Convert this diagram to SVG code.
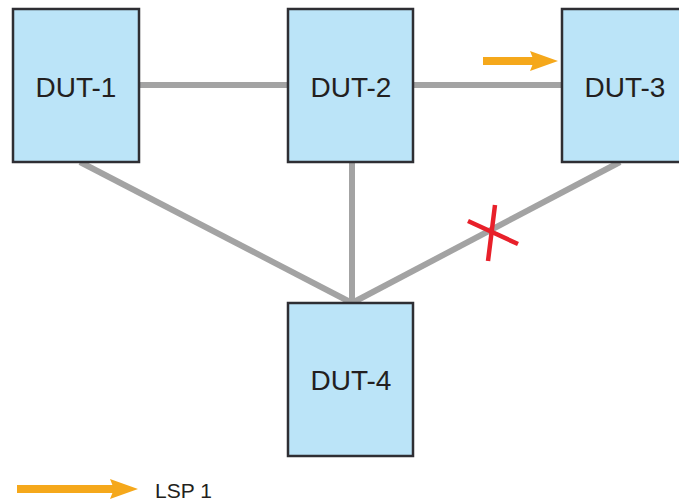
<svg xmlns="http://www.w3.org/2000/svg" width="679" height="503" viewBox="0 0 679 503">
<defs>
<style>
.node rect{fill:#bbe4f8;stroke:#2e2e33;stroke-width:2.5}
.node text{font-family:"Liberation Sans",Arial,sans-serif;font-size:28px;fill:#231f20;text-anchor:middle}
.link{stroke:#a3a3a3;stroke-width:6;fill:none}
.lsp{stroke:#f5a81b;stroke-width:8;fill:none}
.lsphead{fill:#f5a81b}
</style>
</defs>
<rect width="679" height="503" fill="#ffffff"/>
<g id="connectors">
<line class="link" x1="139" y1="85" x2="288" y2="85"/>
<line class="link" x1="413" y1="85" x2="562" y2="85"/>
<line class="link" x1="352" y1="162" x2="352" y2="303"/>
<line class="link" x1="80" y1="162" x2="352" y2="303"/>
<line class="link" x1="620" y1="162" x2="352" y2="303"/>
</g>
<g id="DUT-1" class="node">
<rect x="13" y="9" width="126" height="153"/>
<text x="76" y="97">DUT-1</text>
</g>
<g id="DUT-2" class="node">
<rect x="288" y="9" width="125" height="153"/>
<text x="351" y="97">DUT-2</text>
</g>
<g id="DUT-3" class="node">
<rect x="562" y="9" width="126" height="153"/>
<text x="625" y="97">DUT-3</text>
</g>
<g id="DUT-4" class="node">
<rect x="288" y="303" width="125" height="153"/>
<text x="351" y="390">DUT-4</text>
</g>
<g id="failure">
<line x1="468" y1="221" x2="518" y2="244" stroke="#e8202a" stroke-width="4.5"/>
<line x1="495" y1="205" x2="488" y2="261" stroke="#e8202a" stroke-width="4.5"/>
</g>
<g id="lsp-arrow">
<line class="lsp" x1="483" y1="61" x2="534" y2="61"/>
<polygon class="lsphead" points="530,51 558,61 530,71 534,61"/>
</g>
<g id="legend">
<line class="lsp" x1="17" y1="489" x2="114" y2="489"/>
<polygon class="lsphead" points="110,479 138,489 110,499 114,489"/>
<text x="155" y="498" font-family="'Liberation Sans',Arial,sans-serif" font-size="21" fill="#231f20">LSP 1</text>
</g>
</svg>
